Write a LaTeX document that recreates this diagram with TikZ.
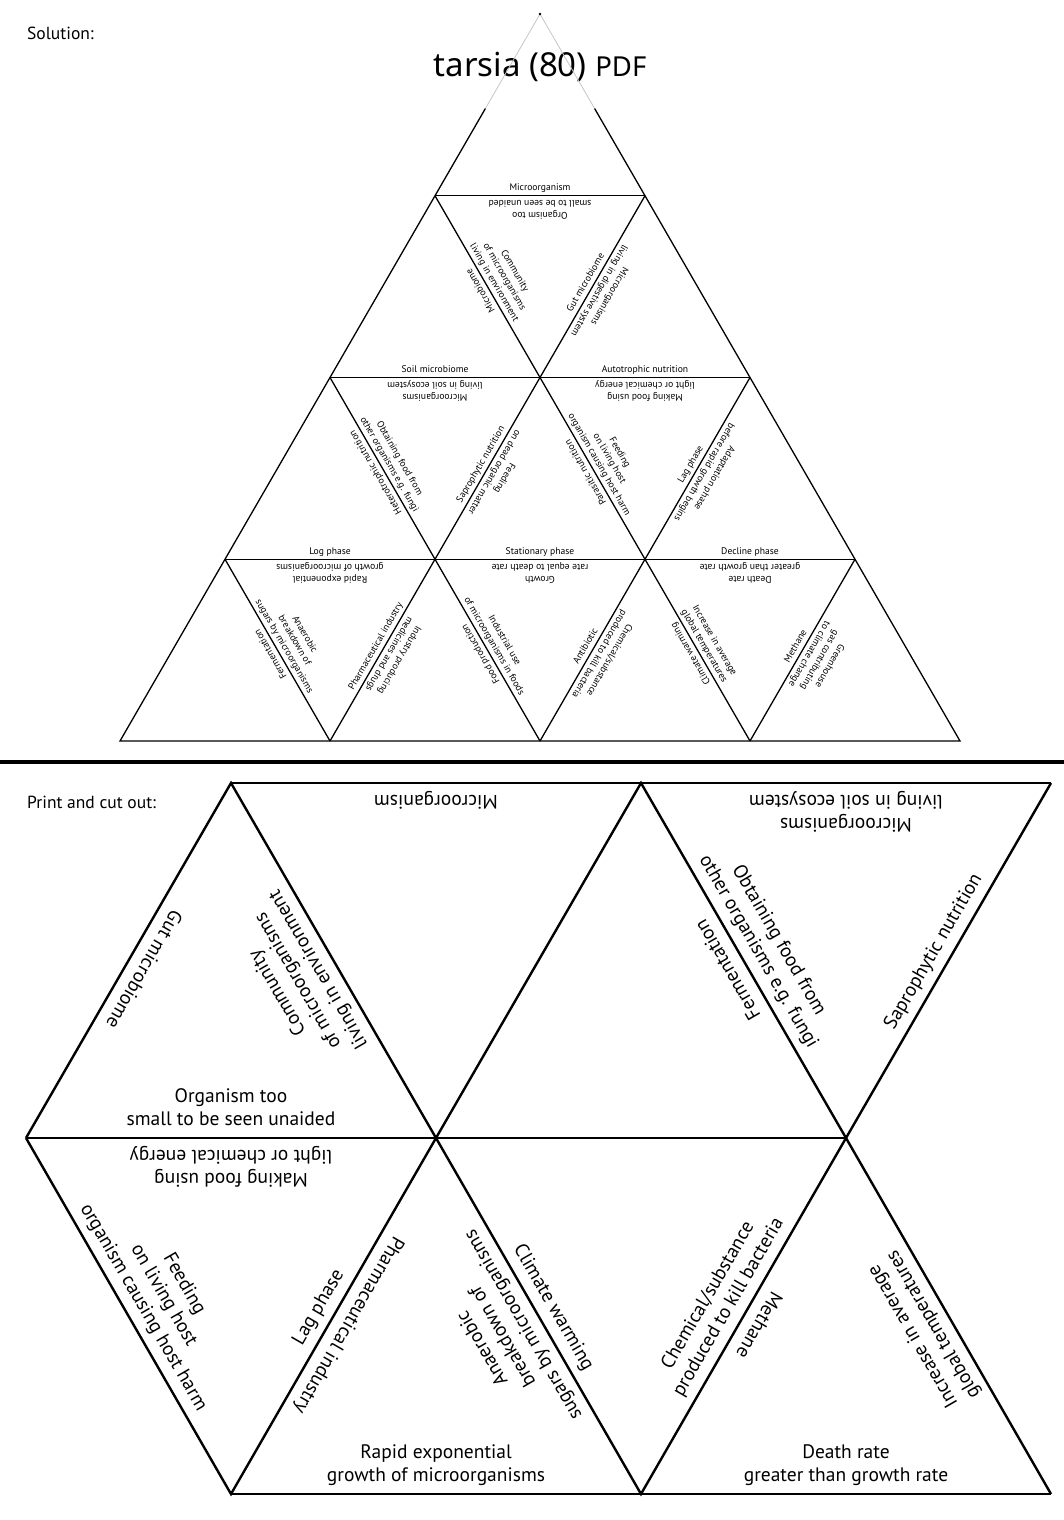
\documentclass[tikz,border=0pt]{standalone}
\usepackage{fontspec}
\setmainfont{PT Sans}
\newfontfamily\titlefont{Noto Sans}
\usetikzlibrary{calc}
\newcommand\edgelbl[6]{\node[#1, rotate=#2] (#3) at ($(#4)!0.5!(#5)$) {#6};}
\begin{document}
\begin{tikzpicture}[x=1pt,y=1pt,
  grid/.style={line width=1.3pt},
  cutgrid/.style={line width=2.4pt},
  sol/.style={font=\fontsize{9.6}{11.8}\selectfont, align=center, inner sep=1.6pt, outer sep=0pt, anchor=south, execute at end node=\strut},
  cut/.style={font=\fontsize{19.5}{23.5}\selectfont, align=center, inner sep=5pt, outer sep=0pt, anchor=south, execute at end node=\strut},
  lbl/.style={font=\fontsize{17.5}{21}\selectfont, anchor=base west, inner sep=0pt}
]
\useasboundingbox (0,0) rectangle (1064,-1520);
\fill[white] (0,0) rectangle (1064,-1520);

% ---- solution grid vertices
\foreach \k in {0,...,4}{
  \foreach \j in {0,...,\k}{
    \coordinate (s\k\j) at ({540-105*\k+210*\j},{-14-181.75*\k});
  }
}
\coordinate (g1) at ($(s00)!0.13!(s40)$);
\coordinate (g2) at ($(s00)!0.13!(s44)$);

\node[lbl] (sollbl) at (27,-40) {Solution:};
\node[font=\titlefont, anchor=base, inner sep=0pt] (title) at (540,-77) {\fontsize{33}{39}\selectfont tarsia (80) \fontsize{27.5}{32}\selectfont PDF};

\draw[gray!45, line width=0.8pt] (g1) -- (s00) -- (g2);
\fill (s00) circle (1.3pt);
\draw[grid] (g1) -- (s40) -- (s44) -- (g2);
\draw[grid] (s10)--(s11) (s20)--(s22) (s30)--(s33);
\draw[grid] (s11)--(s41) (s22)--(s42) (s33)--(s43);
\draw[grid] (s10)--(s43) (s20)--(s42) (s30)--(s41);

\edgelbl{sol}{0}{a1}{s10}{s11}{Microorganism}
\edgelbl{sol}{180}{a2}{s10}{s11}{Organism too\\small to be seen unaided}
\edgelbl{sol}{120}{a3}{s10}{s21}{Microbiome}
\edgelbl{sol}{300}{a4}{s10}{s21}{Community\\of microorganisms\\living in environment}
\edgelbl{sol}{60}{a5}{s11}{s21}{Gut microbiome}
\edgelbl{sol}{240}{a6}{s11}{s21}{Microorganisms\\living in digestive system}
\edgelbl{sol}{0}{a7}{s20}{s21}{Soil microbiome}
\edgelbl{sol}{180}{a8}{s20}{s21}{Microorganisms\\living in soil ecosystem}
\edgelbl{sol}{0}{a9}{s21}{s22}{Autotrophic nutrition}
\edgelbl{sol}{180}{a10}{s21}{s22}{Making food using\\light or chemical energy}
\edgelbl{sol}{120}{a11}{s20}{s31}{Heterotrophic nutrition}
\edgelbl{sol}{300}{a12}{s20}{s31}{Obtaining food from\\other organisms e.g. fungi}
\edgelbl{sol}{60}{a13}{s21}{s31}{Saprophytic nutrition}
\edgelbl{sol}{240}{a14}{s21}{s31}{Feeding\\on dead organic matter}
\edgelbl{sol}{120}{a15}{s21}{s32}{Parasitic nutrition}
\edgelbl{sol}{300}{a16}{s21}{s32}{Feeding\\on living host\\organism causing host harm}
\edgelbl{sol}{60}{a17}{s22}{s32}{Lag phase}
\edgelbl{sol}{240}{a18}{s22}{s32}{Adaptation phase\\before rapid growth begins}
\edgelbl{sol}{0}{a19}{s30}{s31}{Log phase}
\edgelbl{sol}{180}{a20}{s30}{s31}{Rapid exponential\\growth of microorganisms}
\edgelbl{sol}{0}{a21}{s31}{s32}{Stationary phase}
\edgelbl{sol}{180}{a22}{s31}{s32}{Growth\\rate equal to death rate}
\edgelbl{sol}{0}{a23}{s32}{s33}{Decline phase}
\edgelbl{sol}{180}{a24}{s32}{s33}{Death rate\\greater than growth rate}
\edgelbl{sol}{120}{a25}{s30}{s41}{Fermentation}
\edgelbl{sol}{300}{a26}{s30}{s41}{Anaerobic\\breakdown of\\sugars by microorganisms}
\edgelbl{sol}{60}{a27}{s31}{s41}{Pharmaceutical industry}
\edgelbl{sol}{240}{a28}{s31}{s41}{Industry producing\\medicines and drugs}
\edgelbl{sol}{120}{a29}{s31}{s42}{Food production}
\edgelbl{sol}{300}{a30}{s31}{s42}{Industrial use\\of microorganisms in foods}
\edgelbl{sol}{60}{a31}{s32}{s42}{Antibiotic}
\edgelbl{sol}{240}{a32}{s32}{s42}{Chemical/substance\\produced to kill bacteria}
\edgelbl{sol}{120}{a33}{s32}{s43}{Climate warming}
\edgelbl{sol}{300}{a34}{s32}{s43}{Increase in average\\global temperatures}
\edgelbl{sol}{60}{a35}{s33}{s43}{Methane}
\edgelbl{sol}{240}{a36}{s33}{s43}{Greenhouse\\gas contributing\\to climate change}

% ---- separator
\coordinate (sepL) at (0,-762);
\coordinate (sepR) at (1064,-762);
\draw[line width=3.8pt] (sepL) -- (sepR);

% ---- cut-out grid
\coordinate (c00) at (231,-783);
\coordinate (c01) at (641,-783);
\coordinate (c02) at (1051,-783);
\coordinate (c10) at (26,-1138);
\coordinate (c11) at (436,-1138);
\coordinate (c12) at (846,-1138);
\coordinate (c20) at (231,-1494);
\coordinate (c21) at (641,-1494);
\coordinate (c22) at (1051,-1494);

\node[lbl] (cutlbl) at (27,-808) {Print and cut out:};

\draw[cutgrid] (c00)--(c02) (c10)--(c12) (c20)--(c22);
\draw[cutgrid] (c10)--(c00)--(c11)--(c01)--(c12)--(c02);
\draw[cutgrid] (c10)--(c20)--(c11)--(c21)--(c12)--(c22);

\edgelbl{cut}{240}{b1}{c10}{c00}{Gut microbiome}
\edgelbl{cut}{120}{b2}{c00}{c11}{Community\\of microorganisms\\living in environment}
\edgelbl{cut}{0}{b3}{c10}{c11}{Organism too\\small to be seen unaided}
\edgelbl{cut}{180}{b4}{c00}{c01}{Microorganism}
\edgelbl{cut}{120}{b5}{c01}{c12}{Fermentation}
\edgelbl{cut}{180}{b6}{c01}{c02}{Microorganisms\\living in soil ecosystem}
\edgelbl{cut}{300}{b7}{c01}{c12}{Obtaining food from\\other organisms e.g. fungi}
\edgelbl{cut}{60}{b8}{c02}{c12}{Saprophytic nutrition}
\edgelbl{cut}{180}{b9}{c10}{c11}{Making food using\\light or chemical energy}
\edgelbl{cut}{300}{b10}{c10}{c20}{Feeding\\on living host\\organism causing host harm}
\edgelbl{cut}{60}{b11}{c11}{c20}{Lag phase}
\edgelbl{cut}{240}{b12}{c20}{c11}{Pharmaceutical industry}
\edgelbl{cut}{120}{b13}{c11}{c21}{Anaerobic\\breakdown of\\sugars by microorganisms}
\edgelbl{cut}{0}{b14}{c20}{c21}{Rapid exponential\\growth of microorganisms}
\edgelbl{cut}{300}{b15}{c11}{c21}{Climate warming}
\edgelbl{cut}{60}{b16}{c12}{c21}{Chemical/substance\\produced to kill bacteria}
\edgelbl{cut}{240}{b17}{c21}{c12}{Methane}
\edgelbl{cut}{120}{b18}{c12}{c22}{Increase in average\\global temperatures}
\edgelbl{cut}{0}{b19}{c21}{c22}{Death rate\\greater than growth rate}
\end{tikzpicture}
\end{document}
